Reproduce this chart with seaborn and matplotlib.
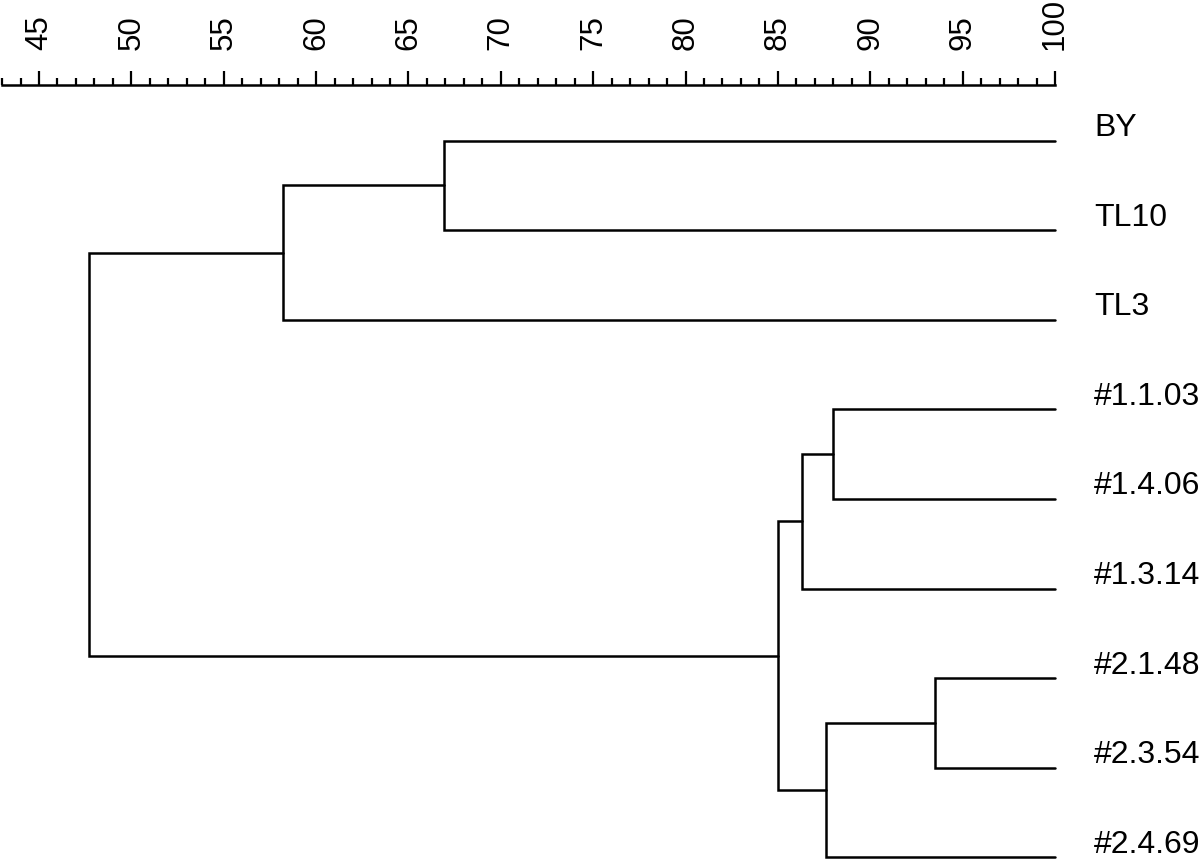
import matplotlib
matplotlib.use("Agg")
import matplotlib.pyplot as plt
import numpy as np
import pandas as pd
import seaborn as sns

# leaves, top to bottom
leaves = ["BY", "TL10", "TL3", "#1.1.03", "#1.4.06", "#1.3.14", "#2.1.48", "#2.3.54", "#2.4.69"]

# merges: (left child, right child, similarity level); internal nodes named n0, n1, ...
merge_left = ["BY", "n0", "#1.1.03", "n2", "#2.1.48", "n4", "n3", "n1"]
merge_right = ["TL10", "TL3", "#1.4.06", "#1.3.14", "#2.3.54", "#2.4.69", "n5", "n6"]
merge_level = [66.9, 58.2, 88.0, 86.3, 93.5, 87.6, 85.0, 47.7]

major_ticks = list(range(45, 101, 5))
minor_ticks = list(range(43, 101))

sns.set_style("white")
plt.rcParams["font.family"] = ["Liberation Sans", "DejaVu Sans"]

# node positions: x = level, y = leaf order (mean of children for internal nodes)
pos = {name: (100.0, i) for i, name in enumerate(leaves)}
rows = []
for k, (a, b, h) in enumerate(zip(merge_left, merge_right, merge_level)):
    xa, ya = pos[a]
    xb, yb = pos[b]
    for xx, yy in [(xa, ya), (h, ya), (h, yb), (xb, yb)]:
        rows.append({"seg": k, "x": xx, "y": yy})
    pos["n%d" % k] = (h, (ya + yb) / 2)
df = pd.DataFrame(rows)

fig = plt.figure(figsize=(12, 8.62), dpi=100)
# x pixel mapping: 45 -> 39 px, 100 -> 1055 px
ppu = (1055 - 39) / 55.0
x0 = 45 - 39 / ppu
x1 = 100 + (1200 - 1055) / ppu
ax = fig.add_axes([0, 0, 1, 1 - 86 / 862])

sns.lineplot(data=df, x="x", y="y", units="seg", estimator=None, sort=False,
             color="black", linewidth=1.8, ax=ax, legend=False)
for ln in ax.lines:
    ln.set_clip_on(False)
    ln.set_solid_joinstyle("miter")

ax.set_xlim(x0, x1)
ax.set_ylim((862 - 141.7) / 89.58, -(141.7 - 86) / 89.58)

# leaf labels
for i, name in enumerate(leaves):
    ax.annotate(name, xy=(100, i), xytext=(28, 4), textcoords="offset points",
                ha="left", va="baseline", fontsize=23, color="black",
                annotation_clip=False)

# axis on top
for s in ["left", "right", "bottom"]:
    ax.spines[s].set_visible(False)
ax.spines["top"].set_bounds(43, 100)
ax.spines["top"].set_linewidth(1.8)
ax.spines["top"].set_color("black")
ax.xaxis.set_ticks_position("top")
ax.xaxis.set_label_position("top")
ax.set_xticks(major_ticks)
ax.set_xticks(minor_ticks, minor=True)
ax.set_xticklabels([str(t) for t in major_ticks], rotation=90, fontsize=22.5)
ax.tick_params(axis="x", which="major", direction="out", length=10, width=1.6,
               color="black", pad=16, labelcolor="black")
ax.tick_params(axis="x", which="minor", direction="out", length=5, width=1.6,
               color="black")
ax.set_yticks([])
ax.set_xlabel("")
ax.set_ylabel("")

fig.savefig("out.png", dpi=100)
